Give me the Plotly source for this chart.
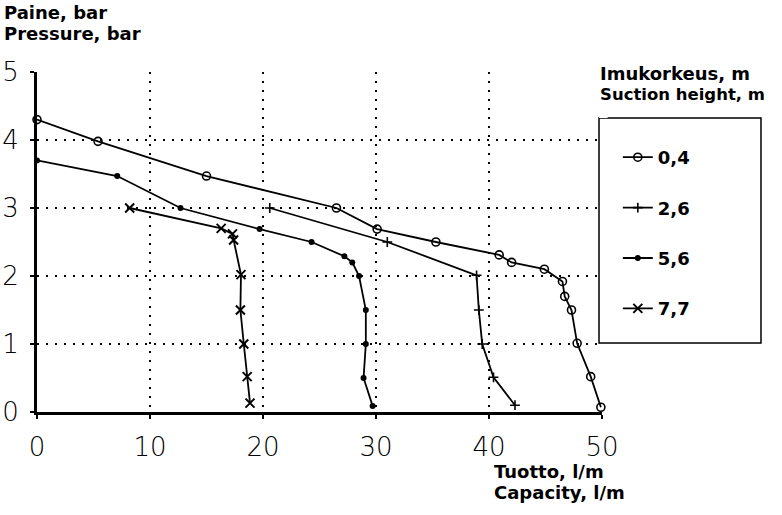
import plotly.graph_objects as go

# ---- data ----
x_04 = [0, 5.4, 15.0, 26.5, 30.1, 35.3, 40.9, 42.0, 44.9, 46.5, 46.7, 47.3, 47.8, 49.0, 49.9]
y_04 = [4.3, 3.98, 3.47, 3.0, 2.69, 2.5, 2.31, 2.2, 2.1, 1.92, 1.7, 1.5, 1.01, 0.52, 0.07]

x_26 = [20.6, 31.0, 38.9, 39.1, 39.4, 40.4, 42.3]
y_26 = [3.0, 2.5, 2.01, 1.5, 1.0, 0.51, 0.1]

x_56 = [0, 7.1, 12.7, 19.7, 24.3, 27.2, 27.9, 28.5, 29.1, 29.1, 28.9, 29.7]
y_56 = [3.7, 3.47, 3.0, 2.69, 2.5, 2.29, 2.2, 2.0, 1.5, 1.0, 0.5, 0.09]

x_77 = [8.2, 16.3, 17.3, 17.4, 18.05, 18.0, 18.3, 18.6, 18.85]
y_77 = [3.0, 2.7, 2.62, 2.53, 2.02, 1.5, 1.0, 0.52, 0.13]

series_names = ["0,4", "2,6", "5,6", "7,7"]
x_ticks = [0, 10, 20, 30, 40, 50]
y_ticks = [0, 1, 2, 3, 4, 5]

BOLD = dict(family="DejaVu Sans", size=18, color="black", weight="bold")
BOLD_SM = dict(family="DejaVu Sans", size=16.5, color="black", weight="bold")

fig = go.Figure()
styles = [
    dict(symbol="circle-open", size=8, color="black", line=dict(width=1.6, color="black")),
    dict(symbol="cross-thin-open", size=7, color="black", line=dict(width=1.6, color="black")),
    dict(symbol="circle", size=6, color="black", line=dict(width=0)),
    dict(symbol="x-thin-open", size=9, color="black", line=dict(width=2, color="black")),
]
for name, xs, ys, mk in zip(series_names, [x_04, x_26, x_56, x_77],
                            [y_04, y_26, y_56, y_77], styles):
    fig.add_trace(go.Scatter(
        x=xs, y=ys, name=name, mode="lines+markers", legendgroup=name,
        line=dict(color="black", width=1.8),
        marker=mk,
        cliponaxis=False,
    ))

axis_common = dict(
    showgrid=True, gridcolor="black", gridwidth=2, griddash="2px,7px",
    showline=True, linecolor="black", linewidth=3,
    ticks="outside", ticklen=4, tickwidth=2, tickcolor="black",
    zeroline=False, automargin=False,
    tickfont=dict(family="DejaVu Sans", size=26, color="black", weight=200),
)

fig.update_layout(
    width=782, height=515,
    margin=dict(l=37, r=180, t=72, b=103),
    paper_bgcolor="white", plot_bgcolor="white",
    xaxis=dict(range=[0, 50], tickvals=x_ticks, ticklabelstandoff=6, **axis_common),
    yaxis=dict(range=[0, 5], tickvals=y_ticks, ticklabelstandoff=6, **axis_common),
    showlegend=True,
    legend=dict(
        x=1.028, xanchor="left", y=0.803, yanchor="top",
        font=BOLD, bgcolor="rgba(0,0,0,0)", borderwidth=0,
        tracegroupgap=24, itemwidth=30,
    ),
    shapes=[
        dict(type="rect", xref="paper", yref="paper",
             x0=0.9947, x1=1.2814, y0=0.2029, y1=0.8647,
             line=dict(color="black", width=1.5), fillcolor="white", layer="above"),
        dict(type="rect", xref="paper", yref="paper",
             x0=0.9947, x1=1.01, y0=0.8647, y1=0.99,
             line=dict(width=0), fillcolor="white", layer="above"),
    ],
    annotations=[
        dict(text="Paine, bar", xref="paper", yref="paper", x=-0.062, y=(412 - 13) / 340,
             xanchor="left", yanchor="middle", showarrow=False, font=BOLD),
        dict(text="Pressure, bar", xref="paper", yref="paper", x=-0.062, y=(412 - 34) / 340,
             xanchor="left", yanchor="middle", showarrow=False, font=BOLD),
        dict(text="Tuotto, l/m", xref="paper", yref="paper", x=(492 - 37) / 565, y=(412 - 471) / 340,
             xanchor="left", yanchor="middle", showarrow=False, font=BOLD),
        dict(text="Capacity, l/m", xref="paper", yref="paper", x=(492 - 37) / 565, y=(412 - 492) / 340,
             xanchor="left", yanchor="middle", showarrow=False, font=BOLD),
        dict(text="Imukorkeus, m", xref="paper", yref="paper", x=(598 - 37) / 565, y=(412 - 73) / 340,
             xanchor="left", yanchor="middle", showarrow=False, font=BOLD, bgcolor="white"),
        dict(text="Suction height, m", xref="paper", yref="paper", x=(598 - 37) / 565, y=(412 - 94) / 340,
             xanchor="left", yanchor="middle", showarrow=False, font=BOLD_SM, bgcolor="white"),
    ],
)

fig.write_html(
    "out.html",
    config={"displayModeBar": False},
    post_script="document.body.style.margin='0';document.body.style.overflow='hidden';",
)
